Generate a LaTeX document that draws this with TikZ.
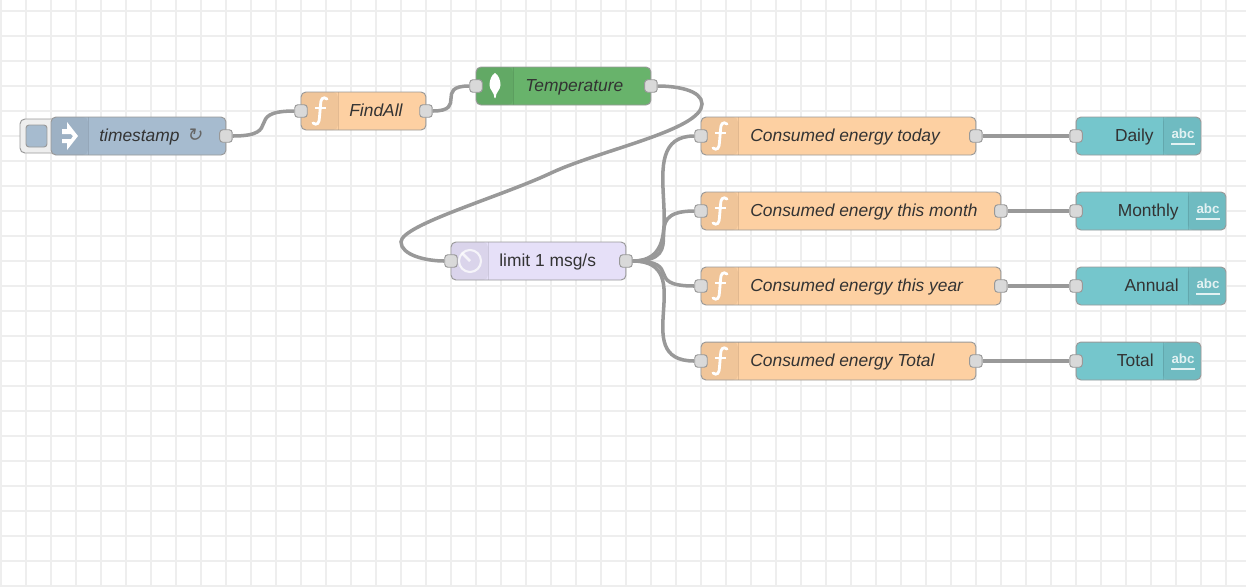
\documentclass[tikz,border=0pt]{standalone}
\usepackage{fontspec}
\setmainfont{Liberation Sans}
\newfontfamily\symfont[FakeSlant=0.2]{DejaVu Sans}
\usetikzlibrary{backgrounds}
\definecolor{gridline}{HTML}{EEEEEE}
\definecolor{edge}{HTML}{999999}
\definecolor{wirecol}{HTML}{999999}
\definecolor{portcol}{HTML}{D9D9D9}
\definecolor{injectcol}{HTML}{A6BBCF}
\definecolor{fncol}{HTML}{FDD0A2}
\definecolor{mongocol}{HTML}{68B36B}
\definecolor{delaycol}{HTML}{E6E0F8}
\definecolor{uicol}{HTML}{75C6CC}
\definecolor{labelcol}{HTML}{333333}
\tikzset{
	flowbox/.style={draw=edge, line width=0.55pt, rounded corners=2.8pt, minimum height=0.76cm, inner sep=0pt, outer sep=0pt, anchor=west},
	iconleft/.style={path picture={
		\fill[black, opacity=0.05] (path picture bounding box.north west) rectangle ([xshift=0.74cm]path picture bounding box.south west);
		\draw[black, opacity=0.1, line width=0.55pt] ([xshift=0.74cm]path picture bounding box.north west) -- ([xshift=0.74cm]path picture bounding box.south west);
	}},
	iconright/.style={path picture={
		\fill[black, opacity=0.05] (path picture bounding box.north east) rectangle ([xshift=-0.76cm]path picture bounding box.south east);
		\draw[black, opacity=0.1, line width=0.55pt] ([xshift=-0.76cm]path picture bounding box.north east) -- ([xshift=-0.76cm]path picture bounding box.south east);
	}},
	fnbox/.style={flowbox, iconleft, fill=fncol},
	uibox/.style={flowbox, iconright, fill=uicol, minimum width=2.5cm},
	portbox/.style={draw=edge, fill=portcol, line width=0.55pt, rounded corners=1.7pt, minimum size=0.25cm, inner sep=0pt},
	wire/.style={draw=wirecol, line width=2pt},
	caption/.style={text=labelcol, font=\fontsize{9.9}{12}\selectfont, inner sep=0pt, text height=9pt, text depth=2.2pt},
	nameit/.style={caption, font=\fontsize{9.9}{12}\selectfont\itshape, anchor=west},
	fglyph/.pic={
		\draw[white, line width=1.6pt, line cap=round] (7,-12) .. controls (3,-15) and (0.5,-12) .. (0.5,-6) -- (-0.5,6) .. controls (-0.5,12) and (-3,15) .. (-7,12);
		\draw[white, line width=1.2pt] (-5,-3) -- (6,-3);
	},
	abcglyph/.pic={
		\node[text=white, opacity=0.8, font=\fontsize{7.6}{9}\selectfont\bfseries, inner sep=0pt] (-abc) at (1,-2) {abc};
		\draw[white, opacity=0.8, line width=1.1pt] (-11,8) -- (13,8);
	},
}

\begin{document}
\begin{tikzpicture}[x=0.02cm, y=-0.02cm]
		\useasboundingbox (0, 0) rectangle (1246, 586);
		
		%%%%% NODES %%%%%
		\node[flowbox, fill=gridline, minimum width=0.8cm, minimum height=0.68cm] (button) at (20, 136) {};
		\node[draw=edge, fill=injectcol, line width=0.55pt, rounded corners=1.7pt, minimum width=0.42cm, minimum height=0.44cm, inner sep=0pt] (knob) at (36.5, 136) {};
		\node[flowbox, iconleft, fill=injectcol, minimum width=3.5cm] (timestamp) at (51, 136) {};
		\node[nameit] (timestamp-txt) at (99, 136) {timestamp\hspace{4pt}{\symfont\fontsize{10.5}{12}\selectfont\color{labelcol!75}↻}};
		\node[fnbox, minimum width=2.5cm] (findall) at (301, 111) {};
		\node[nameit] (findall-txt) at (349, 111) {FindAll};
		\node[flowbox, iconleft, fill=mongocol, minimum width=3.5cm] (temperature) at (476, 86) {};
		\node[nameit] (temperature-txt) at (525, 86) {Temperature};
		\node[flowbox, iconleft, fill=delaycol, minimum width=3.5cm] (limit) at (451, 261) {};
		\node[caption, anchor=west] (limit-txt) at (499, 261) {limit 1 msg/s};
		
		\node[fnbox, minimum width=5.5cm] (today) at (701, 136) {};
		\node[nameit] (today-txt) at (750, 136) {Consumed energy today};
		\node[fnbox, minimum width=6cm] (month) at (701, 211) {};
		\node[nameit] (month-txt) at (750, 211) {Consumed energy this month};
		\node[fnbox, minimum width=6cm] (year) at (701, 286) {};
		\node[nameit] (year-txt) at (750, 286) {Consumed energy this year};
		\node[fnbox, minimum width=5.5cm] (total) at (701, 361) {};
		\node[nameit] (total-txt) at (750, 361) {Consumed energy Total};
		
		\node[uibox] (daily) at (1076, 136) {};
		\node[caption, anchor=east] (daily-txt) at (1154, 136) {Daily};
		\node[uibox, minimum width=3cm] (monthly) at (1076, 211) {};
		\node[caption, anchor=east] (monthly-txt) at (1179, 211) {Monthly};
		\node[uibox, minimum width=3cm] (annual) at (1076, 286) {};
		\node[caption, anchor=east] (annual-txt) at (1179, 286) {Annual};
		\node[uibox] (grand) at (1076, 361) {};
		\node[caption, anchor=east] (grand-txt) at (1154, 361) {Total};
		
		%%%%% ICONS %%%%%
		\fill[white] (62, 129) -- (67, 129) -- (67, 122) -- (78, 136) -- (67, 150) -- (67, 143) -- (62, 143) -- (62, 139) -- (71, 139) -- (73, 136) -- (71, 134) -- (62, 134) -- cycle;
		\pic at (720, 136) {fglyph};
		\pic at (720, 211) {fglyph};
		\pic at (720, 286) {fglyph};
		\pic at (720, 361) {fglyph};
		\pic at (320, 111) {fglyph};
		\fill[white] (495, 73) .. controls (491.5, 75) and (489.5, 80) .. (489.5, 85) .. controls (489.5, 90) and (494.3, 92) .. (494.5, 98) -- (495.5, 98) .. controls (495.7, 92) and (500.5, 90) .. (500.5, 85) .. controls (500.5, 80) and (498.5, 75) .. (495, 73) -- cycle;
		\draw[white, opacity=0.75, line width=1.2pt] (470, 261) circle (11);
		\draw[white, opacity=0.75, line width=1.5pt] (462, 253) -- (470, 261);
		\pic (a) at (1182, 136) {abcglyph};
		\pic (b) at (1207, 211) {abcglyph};
		\pic (c) at (1207, 286) {abcglyph};
		\pic (d) at (1182, 361) {abcglyph};
		
		%%%%% PORTS %%%%%
		\node[portbox] (timestamp-out) at (timestamp.east) {};
		\node[portbox] (findall-in) at (findall.west) {};
		\node[portbox] (findall-out) at (findall.east) {};
		\node[portbox] (temperature-in) at (temperature.west) {};
		\node[portbox] (temperature-out) at (temperature.east) {};
		\node[portbox] (limit-in) at (limit.west) {};
		\node[portbox] (limit-out) at (limit.east) {};
		\foreach \nm in {today,month,year,total} {
			\node[portbox] (\nm-in) at (\nm.west) {};
			\node[portbox] (\nm-out) at (\nm.east) {};
		}
		\foreach \nm in {daily,monthly,annual,grand} \node[portbox] (\nm-in) at (\nm.west) {};
		
		%%%%% GRID AND WIRES %%%%%
		\begin{scope}[on background layer]
		\fill[white] (0, 0) rectangle (1246, 586);
		\foreach \gx in {0,...,49} \draw[gridline, line width=1.13pt] ({1+25*\gx}, 0) -- ({1+25*\gx}, 586);
		\foreach \gy in {0,...,23} \draw[gridline, line width=1.13pt] (0, {11+25*\gy}) -- (1246, {11+25*\gy});
		\draw[wire] (timestamp-out) .. controls (285, 136) and (242, 111) .. (findall-in);
		\draw[wire] (findall-out) .. controls (468, 111) and (434, 86) .. (temperature-in);
		\draw[wire] (temperature-out) .. controls (676, 86) and (702, 90) .. (702, 104) .. controls (702, 130) and (600, 150) .. (551, 173) .. controls (500, 197) and (401, 225) .. (401, 242) .. controls (401, 255) and (426, 261) .. (limit-in);
		\draw[wire] (limit-out) .. controls (701, 261) and (626, 136) .. (today-in);
		\draw[wire] (limit-out) .. controls (693.5, 261) and (633.5, 211) .. (month-in);
		\draw[wire] (limit-out) .. controls (685, 261) and (642, 286) .. (year-in);
		\draw[wire] (limit-out) .. controls (701, 261) and (626, 361) .. (total-in);
		\draw[wire] (today-out) -- (daily-in);
		\draw[wire] (month-out) -- (monthly-in);
		\draw[wire] (year-out) -- (annual-in);
		\draw[wire] (total-out) -- (grand-in);
		\end{scope}
	\end{tikzpicture}
\end{document}
